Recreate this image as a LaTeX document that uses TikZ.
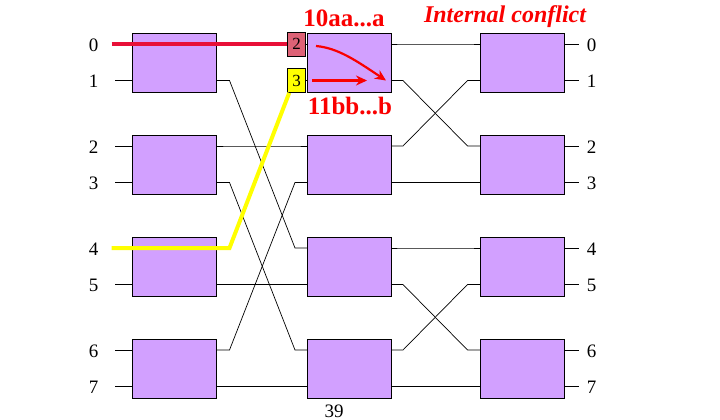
\documentclass[tikz,border=0pt]{standalone}
\usepackage{fontspec}
\setmainfont{Liberation Serif}
\usetikzlibrary{arrows.meta,positioning}
\definecolor{swfill}{RGB}{210,160,255}
\definecolor{tagred}{RGB}{222,98,118}
\definecolor{pathred}{RGB}{232,16,56}
\definecolor{txtred}{RGB}{250,0,0}
\definecolor{pathyellow}{RGB}{255,255,0}

\begin{document}
\begin{tikzpicture}[x=1pt,y=-1pt,
  sw/.style={draw,line width=0.8pt,fill=swfill,minimum width=84pt,minimum height=59pt,inner sep=0pt},
  wire/.style={line width=0.7pt},
  num/.style={font=\fontsize{19}{19}\selectfont},
  tag/.style={draw,line width=0.8pt,minimum width=18pt,minimum height=24pt,inner sep=0pt,font=\fontsize{17}{17}\selectfont},
  big/.style={text=txtred,font=\fontsize{25}{25}\selectfont\bfseries},
  redarrow/.style={txtred,line width=2.2pt,-{Stealth[length=11pt,width=10pt]}}]
\useasboundingbox (0,0) rectangle (720,420);
% switches and their ports
\foreach \s/\x in {1/174.5,2/349,3/522.5}{
  \foreach \b/\y in {0/62.5,1/164.5,2/266.5,3/368.5}{
    \node[sw] (b\s\b) at (\x,\y) {};
    \pgfmathtruncatemacro\pa{2*\b}
    \pgfmathtruncatemacro\pb{2*\b+1}
    \coordinate (i\s\pa) at (\x-42,\y-18.5);
    \coordinate (i\s\pb) at (\x-42,\y+18);
    \coordinate (o\s\pa) at (\x+42,\y-18.5);
    \coordinate (o\s\pb) at (\x+42,\y+18);
  }
}
% inputs and outputs
\foreach \p in {0,...,7}{
  \draw[wire] (i1\p) -- ++(-18,0);
  \draw[wire] (o3\p) -- ++(14,0);
  \path (i1\p) ++(-39,1) node[num] (in\p) {\p};
  \path (o3\p) ++(27,1) node[num] (out\p) {\p};
}
% links between stages
\foreach \p/\q in {0/0,1/4,2/2,3/6,4/1,5/5,6/3,7/7}
  \draw[wire] (o1\p) -- ++(13,0) -- ([xshift=-12pt]i2\q) -- (i2\q);
\foreach \p/\q in {0/0,1/2,2/1,3/3,4/4,5/6,6/5,7/7}
  \draw[wire] (o2\p) -- ++(12,0) -- ([xshift=-13pt]i3\q) -- (i3\q);

% the two messages
\node[tag,fill=tagred,left=1pt of i20] (t2) {2};
\node[tag,fill=pathyellow,left=1pt of i21] (t3) {3};
\draw[pathred,line width=4pt] ([xshift=-21pt]i10) -- (t2);
\draw[pathyellow,line width=4pt] ([xshift=-21pt]i14) -- ([xshift=13pt]o14) -- ([xshift=2pt]t3.south west);
\draw[redarrow] ([shift={(9,2)}]i20) .. controls +(22,2) and +(-30,-20) .. ([xshift=-5pt]o21);
\draw[redarrow] ([xshift=5pt]i21) -- ([xshift=-24pt]o21);

\node[big] (msga) at (344,18) {10aa...a};
\node[big] (msgb) at (350,106) {11bb...b};
\node[text=txtred,font=\fontsize{24}{24}\selectfont\bfseries\itshape,anchor=base] (conf) at (505,23) {Internal conflict};
\node[num] (pg) at (334,411) {39};
\end{tikzpicture}
\end{document}
